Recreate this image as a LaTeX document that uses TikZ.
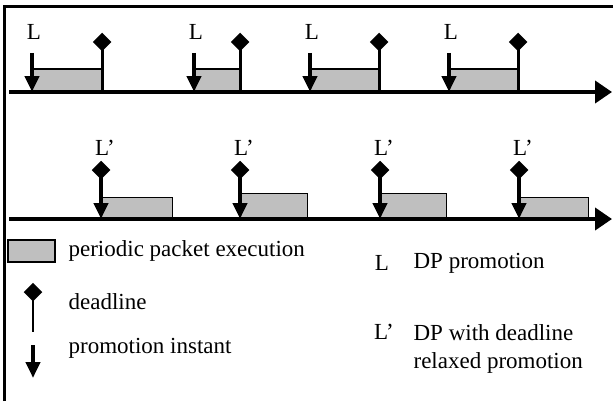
\documentclass[tikz,border=0pt]{standalone}
\usepackage{fontspec}
\setmainfont{Liberation Serif}
\usetikzlibrary{arrows.meta,shapes.geometric}
\tikzset{
	pkt/.style={draw=black,line width=0.5pt,fill=black!25},
	dl/.style={diamond,fill=black,inner sep=0pt,minimum size=9.5pt},
	prom/.style={line width=2pt,-{Triangle[length=8pt,width=7pt]}},
	axis/.style={line width=2pt,-{Triangle[length=8.5pt,width=11pt]}},
	lbl/.style={inner sep=0pt,font=\fontsize{11.5}{14}\selectfont}
}
\begin{document}
\begin{tikzpicture}[x=0.5pt,y=-0.5pt,color=black,line width=0.6pt]
		\useasboundingbox (0,0) rectangle (613,401);
		\draw[line width=1.5pt] (4.5,401) -- (4.5,6.5) -- (613,6.5);
		\coordinate (a1s) at (9,92);
		\coordinate (a1e) at (612,92);
		\coordinate (a2s) at (9,219);
		\coordinate (a2e) at (612,219);
		\foreach \a/\d [count=\i] in {32/102, 194/240, 310/379, 449/518}{
		\draw[pkt] (\a,69) rectangle (\d,92);
		\node[dl] (d\i) at (\d,42) {};
		\draw[line width=1.5pt] (d\i.center) -- (\d,92);
		\draw[prom] (\a,53) -- (\a,92);
		\node[lbl] (l\i) at (\a+2,32) {L};
		}
		\draw[axis] (a1s) -- (a1e);
		\foreach \a/\e/\t [count=\i] in {101/172/197, 240/307/193, 380/446/193, 519/588/197}{
		\draw[pkt] (\a,\t) rectangle (\e,219);
		\node[dl] (e\i) at (\a,170) {};
		\draw[prom] (e\i.center) -- (\a,219);
		\node[lbl] (m\i) at (\a+4,148) {L'};
		}
		\draw[axis] (a2s) -- (a2e);
		\draw[pkt,line width=0.8pt] (8,240) rectangle (55,262);
		\node[lbl,anchor=west] (t1) at (68,251) {periodic packet execution};
		\node[dl] (ld) at (33,292) {};
		\draw[line width=0.8pt] (ld.center) -- (33,332);
		\node[lbl,anchor=west] (t2) at (68,302) {deadline};
		\draw[prom] (33,345) -- (33,378);
		\node[lbl,anchor=west] (t3) at (68,348) {promotion instant};
		\node[lbl] (kL) at (382,263) {L};
		\node[lbl,anchor=west] (t4) at (413,263) {DP promotion};
		\node[lbl] (kM) at (384,332) {L'};
		\node[lbl,anchor=north west,align=left] (t5) at (413,324) {DP with deadline\\relaxed promotion};
		\end{tikzpicture}
\end{document}
